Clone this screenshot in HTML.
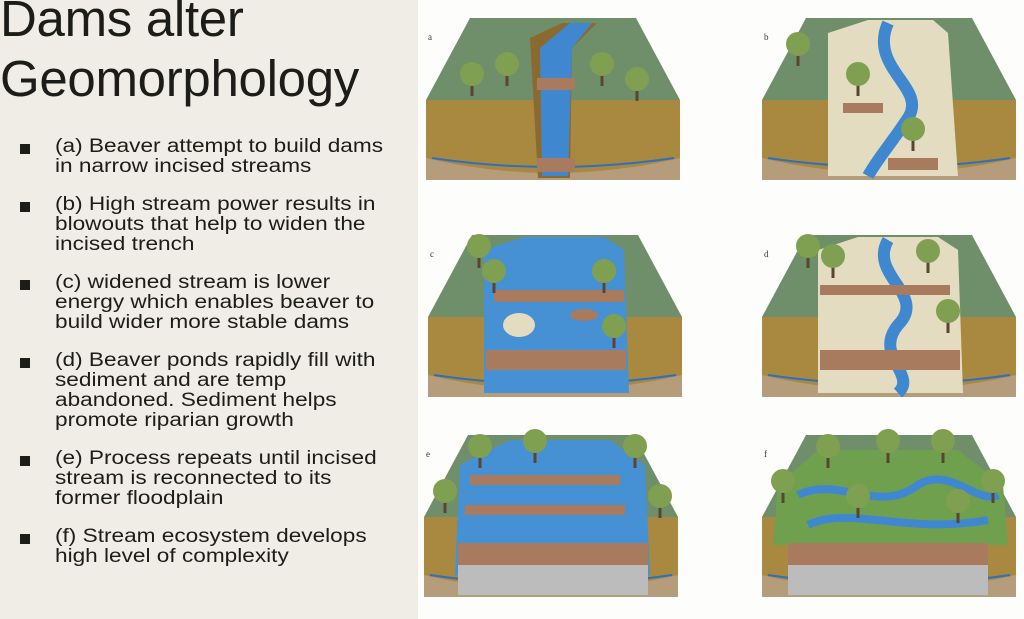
<!DOCTYPE html>
<html><head><meta charset="utf-8"><style>
html,body{margin:0;padding:0}
body{width:1024px;height:619px;position:relative;overflow:hidden;background:#efede6;font-family:"Liberation Sans",sans-serif;color:#1c1c18}
.t{position:absolute;left:0;font-size:51px;line-height:60px;letter-spacing:-0.3px}
ul{position:absolute;left:0;top:137px;margin:0;padding:0;list-style:none;width:410px}
li{position:relative;padding-left:55px;font-size:19px;line-height:20px;margin-bottom:18px;white-space:nowrap}
li span{display:inline-block;transform:scaleX(1.19);transform-origin:0 0}
li:before{content:"";position:absolute;left:20px;top:7px;width:10px;height:10px;background:#1c1c18}
svg{position:absolute;left:418px;top:0}
</style></head><body>
<div class="t" style="top:-11px">Dams alter<br>Geomorphology</div>
<ul>
<li><span>(a) Beaver attempt to build dams<br>in narrow incised streams</span></li>
<li><span>(b) High stream power results in<br>blowouts that help to widen the<br>incised trench</span></li>
<li><span>(c) widened stream is lower<br>energy which enables beaver to<br>build wider more stable dams</span></li>
<li><span>(d) Beaver ponds rapidly fill with<br>sediment and are temp<br>abandoned. Sediment helps<br>promote riparian growth</span></li>
<li><span>(e) Process repeats until incised<br>stream is reconnected to its<br>former floodplain</span></li>
<li><span>(f) Stream ecosystem develops<br>high level of complexity</span></li>
</ul>
<svg width="606" height="619" viewBox="0 0 606 619">
<rect width="606" height="619" fill="#fdfdfb"/>
<defs>
<g id="blk">
<polygon points="4,92 4,170 258,170 258,92" fill="#a8893f"/>
<path d="M4,150 Q130,180 258,150 L258,172 L4,172Z" fill="#b59c7a"/>
<path d="M10,150 Q130,168 252,150" stroke="#2f6fc0" stroke-width="2" fill="none"/>
<polygon points="4,92 48,10 214,10 258,92" fill="#6e8f6a"/>
</g>
<g id="tree"><rect x="-1.5" y="0" width="3" height="18" fill="#5a4530"/><circle cx="0" cy="-4" r="12" fill="#7fa050"/></g>
</defs>
<g transform="translate(4,8)">
<use href="#blk"/>
<polygon points="108,30 140,15 175,15 150,40 148,170 116,170" fill="#8a6a2e"/>
<polygon points="118,40 148,15 170,15 150,40 146,168 120,168" fill="#3f88d0"/>
<rect x="115" y="70" width="38" height="12" fill="#a97b5e"/><rect x="115" y="150" width="38" height="14" fill="#a97b5e"/>
<use href="#tree" transform="translate(50,70)"/><use href="#tree" transform="translate(85,60)"/><use href="#tree" transform="translate(180,60)"/><use href="#tree" transform="translate(215,75)"/>
<text x="6" y="32" font-size="9" fill="#333" font-family="Liberation Serif">a</text>
</g>
<g transform="translate(340,8)">
<use href="#blk"/>
<polygon points="70,25 110,12 175,12 190,25 200,168 70,168" fill="#e4dcc0"/>
<path d="M130,15 C110,60 170,80 150,110 C130,140 120,150 110,168" stroke="#3f88d0" stroke-width="12" fill="none"/>
<rect x="85" y="95" width="40" height="10" fill="#a97b5e"/><rect x="130" y="150" width="50" height="12" fill="#a97b5e"/>
<use href="#tree" transform="translate(100,70)"/><use href="#tree" transform="translate(155,125)"/><use href="#tree" transform="translate(40,40)"/>
<text x="6" y="32" font-size="9" fill="#333" font-family="Liberation Serif">b</text>
</g>
<g transform="translate(6,225)">
<use href="#blk"/>
<polygon points="60,25 100,12 180,12 200,25 205,168 60,168" fill="#4690d4"/>
<rect x="70" y="65" width="130" height="12" fill="#a97b5e"/><rect x="62" y="125" width="140" height="20" fill="#a97b5e"/>
<ellipse cx="95" cy="100" rx="16" ry="12" fill="#e4dcc0"/><ellipse cx="160" cy="90" rx="14" ry="6" fill="#a97b5e"/>
<use href="#tree" transform="translate(70,50)"/><use href="#tree" transform="translate(180,50)"/><use href="#tree" transform="translate(190,105)"/><use href="#tree" transform="translate(55,25)"/>
<text x="6" y="32" font-size="9" fill="#333" font-family="Liberation Serif">c</text>
</g>
<g transform="translate(340,225)">
<use href="#blk"/>
<polygon points="60,25 100,12 180,12 200,25 205,168 60,168" fill="#e4dcc0"/>
<path d="M130,15 C110,50 170,70 140,100 C115,130 160,150 140,168" stroke="#3f88d0" stroke-width="12" fill="none"/>
<rect x="62" y="60" width="130" height="10" fill="#a97b5e"/><rect x="62" y="125" width="140" height="20" fill="#a97b5e"/>
<use href="#tree" transform="translate(75,35)"/><use href="#tree" transform="translate(170,30)"/><use href="#tree" transform="translate(190,90)"/><use href="#tree" transform="translate(50,25)"/>
<text x="6" y="32" font-size="9" fill="#333" font-family="Liberation Serif">d</text>
</g>
<g transform="translate(2,425)">
<use href="#blk"/>
<polygon points="40,40 90,15 190,15 225,40 230,150 35,150" fill="#4690d4"/>
<rect x="50" y="50" width="150" height="10" fill="#a97b5e"/><rect x="45" y="80" width="160" height="10" fill="#a97b5e"/><rect x="38" y="118" width="190" height="22" fill="#a97b5e"/>
<rect x="38" y="140" width="190" height="30" fill="#bcbcbc"/>
<use href="#tree" transform="translate(25,70)"/><use href="#tree" transform="translate(240,75)"/><use href="#tree" transform="translate(60,25)"/><use href="#tree" transform="translate(215,25)"/><use href="#tree" transform="translate(115,20)"/>
<text x="6" y="32" font-size="9" fill="#333" font-family="Liberation Serif">e</text>
</g>
<g transform="translate(340,425)">
<use href="#blk"/>
<polygon points="20,60 60,25 200,25 245,60 250,120 15,120" fill="#6fa04e"/>
<path d="M40,70 C80,50 120,90 160,60 C190,40 220,80 240,70 M50,100 C90,80 150,110 230,95" stroke="#3f88d0" stroke-width="8" fill="none"/>
<rect x="30" y="118" width="200" height="22" fill="#a97b5e"/>
<rect x="30" y="140" width="200" height="30" fill="#bcbcbc"/>
<use href="#tree" transform="translate(25,60)"/><use href="#tree" transform="translate(235,60)"/><use href="#tree" transform="translate(70,25)"/><use href="#tree" transform="translate(130,20)"/><use href="#tree" transform="translate(185,20)"/><use href="#tree" transform="translate(100,75)"/><use href="#tree" transform="translate(200,80)"/>
<text x="6" y="32" font-size="9" fill="#333" font-family="Liberation Serif">f</text>
</g>
</svg>
</body></html>
